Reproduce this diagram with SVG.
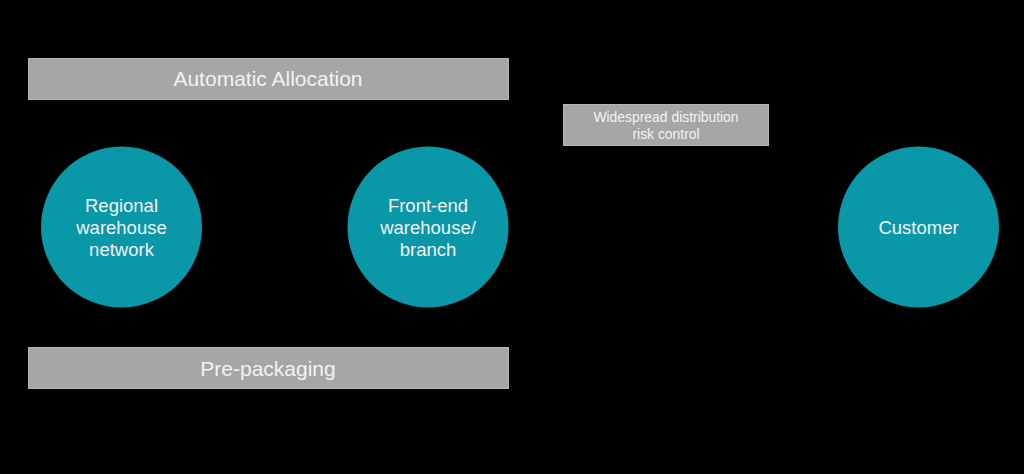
<svg xmlns="http://www.w3.org/2000/svg" width="1024" height="474" viewBox="0 0 1024 474">
<style>
.bar{fill:#a6a6a6;stroke:#b4b4b4;stroke-width:1}
.node{fill:#0a97a7}
.t{font-family:"Liberation Sans",Arial,sans-serif;fill:#f2f2f2;text-anchor:middle}
.big{font-size:21px}
.mid{font-size:18.5px}
.sm{font-size:13.9px}
</style>
<rect width="1024" height="474" fill="#000"/>
<g id="automatic-allocation">
<rect class="bar" x="28.5" y="58.5" width="480" height="41"/>
<text class="t big" x="268" y="86">Automatic Allocation</text>
</g>
<g id="risk-control">
<rect class="bar" x="563.5" y="104.5" width="205" height="41"/>
<text class="t sm" x="666" y="122">Widespread distribution</text>
<text class="t sm" x="666" y="139">risk control</text>
</g>
<g id="pre-packaging">
<rect class="bar" x="28.5" y="347.5" width="480" height="41"/>
<text class="t big" x="268" y="375.5">Pre-packaging</text>
</g>
<g id="regional">
<circle class="node" cx="121.5" cy="227" r="80.5"/>
<text class="t mid" x="121.5" y="212">Regional</text>
<text class="t mid" x="121.5" y="234">warehouse</text>
<text class="t mid" x="121.5" y="256">network</text>
</g>
<g id="front-end">
<circle class="node" cx="428" cy="227" r="80.5"/>
<text class="t mid" x="428" y="212">Front-end</text>
<text class="t mid" x="428" y="234">warehouse/</text>
<text class="t mid" x="428" y="256">branch</text>
</g>
<g id="customer">
<circle class="node" cx="918.5" cy="227" r="80.5"/>
<text class="t mid" x="918.5" y="234">Customer</text>
</g>
<g id="connectors"></g>
</svg>
